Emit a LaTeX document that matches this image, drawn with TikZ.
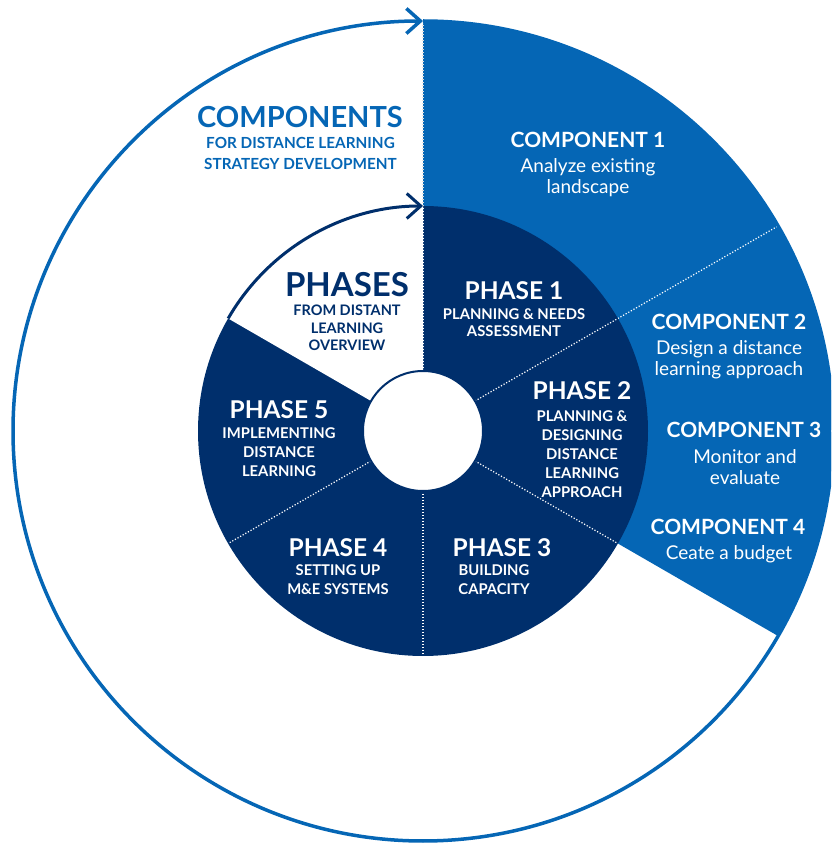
\documentclass[tikz,border=0pt]{standalone}
\usepackage{fontspec}
\setmainfont{Lato}
\usetikzlibrary{arrows.meta}
\definecolor{cblue}{HTML}{0566B5}
\definecolor{cnavy}{HTML}{002F6C}
\begin{document}
\begin{tikzpicture}[x=1pt,y=1pt,
  lbl/.style={inner sep=0pt, anchor=north, align=center},
  ttl/.style={lbl, font=\bfseries\fontsize{24.5}{28}\selectfont, text=white},
  sub/.style={lbl, font=\bfseries\fontsize{14.8}{19}\selectfont, text=white},
  subtight/.style={lbl, font=\bfseries\fontsize{14.8}{17}\selectfont, text=white},
  ctl/.style={lbl, font=\bfseries\fontsize{21}{24}\selectfont, text=white},
  cbody/.style={lbl, font=\fontsize{19}{21}\selectfont, text=white},
  divider/.style={white, line width=1.2pt, dash pattern=on 1.2pt off 1.8pt},
  barb/.style={-{Straight Barb[length=14pt,width=25pt,line width=#1]}},
]
\useasboundingbox (0,0) rectangle (831,844);
\clip (0,0) rectangle (831,844);
\coordinate (C) at (423,413);
% outer component sector
\fill[cblue] (C) -- ++(90:410) arc[start angle=90,end angle=-30,radius=410] -- cycle;
\draw[divider] ([shift={(30:225)}]C) -- ([shift={(30:410)}]C);
\draw[divider, white!75!gray] ([shift={(90:225)}]C) -- ([shift={(90:408)}]C);
% outer circle with arrow
\draw[cblue, line width=3.5pt, barb=3.5pt] ([shift={(90:410)}]C) arc[start angle=90,end angle=-270,radius=410];
% inner phases disk
\fill[cnavy] (C) circle[radius=225];
\fill[white] (C) -- ++(90:225) arc[start angle=90,end angle=150,radius=225] -- cycle;
\draw[cnavy, line width=3pt, barb=3pt] ([shift={(150:225)}]C) arc[start angle=150,end angle=90,radius=225];
\foreach \a in {90,30,-30,-90,-150}
  \draw[divider] ([shift={(\a:60)}]C) -- ([shift={(\a:224)}]C);
\draw[cnavy, line width=2pt, fill=white] (C) circle[radius=60];
% headings
\node[lbl, font=\bfseries\fontsize{29}{32}\selectfont, text=cblue] (comps) at (300,738) {COMPONENTS};
\node[lbl, font=\bfseries\fontsize{15.3}{21}\selectfont, text=cblue] (compssub) at (300.5,707) {FOR DISTANCE LEARNING\\STRATEGY DEVELOPMENT};
\node[lbl, font=\bfseries\fontsize{33}{36}\selectfont, text=cnavy] (phases) at (347,572) {PHASES};
\node[lbl, font=\bfseries\fontsize{14.5}{17.5}\selectfont, text=cnavy] (phasessub) at (347,539) {FROM DISTANT\\LEARNING\\OVERVIEW};
% components
\node[ctl] (c1) at (588,712) {COMPONENT 1};
\node[cbody] (c1b) at (588,686) {Analyze existing\\landscape};
\node[ctl] (c2) at (729,530) {COMPONENT 2};
\node[cbody] (c2b) at (729,504) {Design a distance\\learning approach};
\node[ctl] (c3) at (744,422) {COMPONENT 3};
\node[cbody] (c3b) at (745,395) {Monitor and\\evaluate};
\node[ctl] (c4) at (728,325) {COMPONENT 4};
\node[cbody] (c4b) at (729,299) {Ceate a budget};
% phases
\node[ttl] (p1) at (514,563) {PHASE 1};
\node[subtight] (p1b) at (514,536) {PLANNING \& NEEDS\\ASSESSMENT};
\node[ttl] (p2) at (582,463) {PHASE 2};
\node[sub] (p2b) at (582,434) {PLANNING \&\\DESIGNING\\DISTANCE\\LEARNING\\APPROACH};
\node[ttl] (p3) at (502,306) {PHASE 3};
\node[sub] (p3b) at (494,280) {BUILDING\\CAPACITY};
\node[ttl] (p4) at (338,306) {PHASE 4};
\node[sub] (p4b) at (338,280) {SETTING UP\\M\&E SYSTEMS};
\node[ttl] (p5) at (279,444) {PHASE 5};
\node[sub] (p5b) at (279,417) {IMPLEMENTING\\DISTANCE\\LEARNING};
\end{tikzpicture}
\end{document}
